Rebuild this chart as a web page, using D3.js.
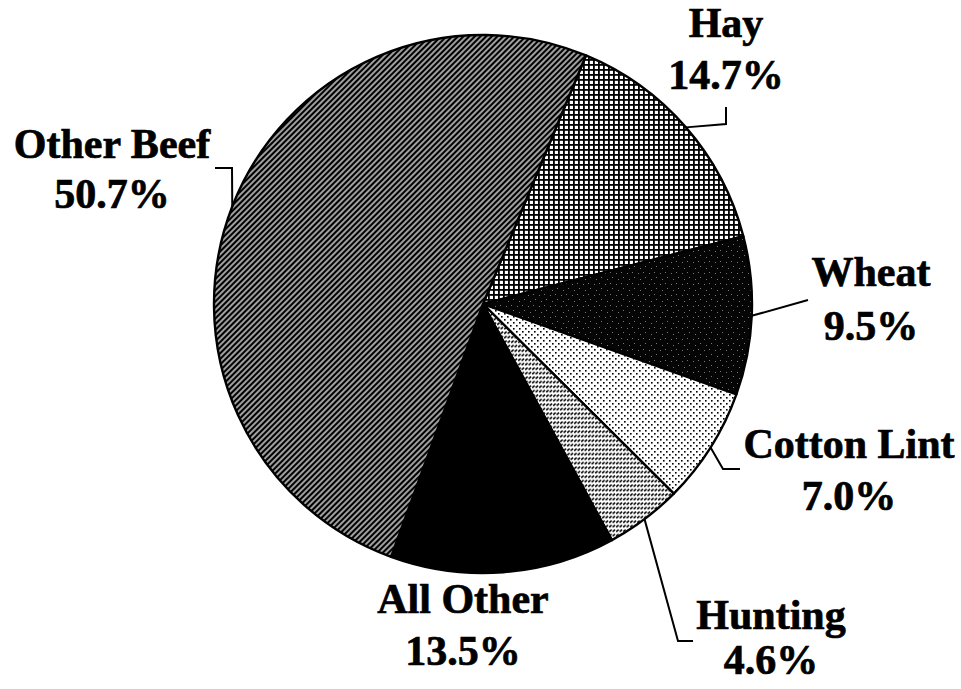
<!DOCTYPE html>
<html>
<head>
<meta charset="utf-8">
<script src="https://cdn.jsdelivr.net/npm/d3@7"></script>
<style>
html,body{margin:0;padding:0;background:#fff;}
svg{display:block;}
text{font-family:"Liberation Serif","Times New Roman",serif;font-weight:bold;fill:#000;stroke:#000;stroke-width:0.7px;}
</style>
</head>
<body>
<svg id="chart" width="961" height="689"></svg>
<script>
// ---- data ----
const categories = ["Hay", "Wheat", "Cotton Lint", "Hunting", "All Other", "Other Beef"];
const shares = [14.7, 9.5, 7.0, 4.6, 13.5, 50.7];
const shareLabels = ["14.7%", "9.5%", "7.0%", "4.6%", "13.5%", "50.7%"];

// ---- layout ----
const W = 961, H = 689;
const cx = 483, cy = 304, R = 269;
const startDeg = 22.5;
const fills = ["url(#pHay)", "url(#pWheat)", "url(#pCotton)", "url(#pHunt)", "#000", "url(#pBeef)"];
const labelPos = {
  "Hay":        {x: 726, y1: 37,  y2: 89},
  "Wheat":      {x: 871, y1: 286, y2: 340},
  "Cotton Lint":{x: 849, y1: 458, y2: 510},
  "Hunting":    {x: 771, y1: 629, y2: 674},
  "All Other":  {x: 463, y1: 613, y2: 665},
  "Other Beef": {x: 112, y1: 158, y2: 208}
};
const leaderTail = {
  "Hay":        [[726,124],[726,107]],
  "Wheat":      [[808,300]],
  "Cotton Lint":[[723,469],[740,469]],
  "Hunting":    [[678,641],[693,641]],
  "Other Beef": [[232,168],[215,168]]
};

const svg = d3.select("#chart");
const defs = svg.append("defs");

// Other Beef: dense diagonal hatching
const pb = defs.append("pattern").attr("id","pBeef").attr("patternUnits","userSpaceOnUse")
  .attr("width",4).attr("height",4).attr("patternTransform","rotate(45)");
pb.append("rect").attr("width",4).attr("height",4).attr("fill","#6e6e6e");
pb.append("rect").attr("x",0).attr("width",2).attr("height",4).attr("fill","#000");
pb.append("rect").attr("x",2.6).attr("width",0.8).attr("height",4).attr("fill","#e8e8e8");

// Hay: crosshatch grid
const ph = defs.append("pattern").attr("id","pHay").attr("patternUnits","userSpaceOnUse")
  .attr("width",5).attr("height",5);
ph.append("rect").attr("width",5).attr("height",5).attr("fill","#fff");
ph.append("rect").attr("x",0).attr("y",0).attr("width",1.8).attr("height",5).attr("fill","#000");
ph.append("rect").attr("x",0).attr("y",0).attr("width",5).attr("height",1.8).attr("fill","#000");

// Wheat: near-black with sparse light specks
const pw = defs.append("pattern").attr("id","pWheat").attr("patternUnits","userSpaceOnUse")
  .attr("width",11).attr("height",11);
pw.append("rect").attr("width",11).attr("height",11).attr("fill","#050505");
[[1,2],[6,1],[8,6],[3,8]].forEach(p=>{
  pw.append("rect").attr("x",p[0]).attr("y",p[1]).attr("width",1).attr("height",1).attr("fill","#777");
});

// Cotton Lint: white with black dots
const pc = defs.append("pattern").attr("id","pCotton").attr("patternUnits","userSpaceOnUse")
  .attr("width",6).attr("height",6);
pc.append("rect").attr("width",6).attr("height",6).attr("fill","#fff");
pc.append("rect").attr("x",0).attr("y",0).attr("width",1.6).attr("height",1.6).attr("fill","#000");
pc.append("rect").attr("x",3).attr("y",3).attr("width",1.6).attr("height",1.6).attr("fill","#000");

// Hunting: rows of short slanted dashes
const pu = defs.append("pattern").attr("id","pHunt").attr("patternUnits","userSpaceOnUse")
  .attr("width",3.5).attr("height",4.5);
pu.append("rect").attr("width",3.5).attr("height",4.5).attr("fill","#fff");
pu.append("path").attr("d","M0.2,2.8 L2.6,0.6").attr("stroke","#000").attr("stroke-width",1.6);

// ---- pie ----
const data = categories.map((c,i)=>({cat:c, value:shares[i], label:shareLabels[i], fill:fills[i]}));
const toRad = d => d*Math.PI/180;
const pie = d3.pie().value(d=>d.value).sort(null)
  .startAngle(toRad(startDeg)).endAngle(toRad(startDeg)+2*Math.PI);
const arc = d3.arc().innerRadius(0).outerRadius(R);
const arcs = pie(data);

const g = svg.append("g").attr("transform",`translate(${cx},${cy})`);
g.selectAll("path.slice").data(arcs).enter().append("path")
  .attr("class","slice")
  .attr("d",arc)
  .attr("fill",d=>d.data.fill)
  .attr("stroke","#000").attr("stroke-width",2.4).attr("stroke-linejoin","round");

// ---- leader lines ----
arcs.forEach(a=>{
  const tail = leaderTail[a.data.cat];
  if(!tail) return;
  const m = (a.startAngle+a.endAngle)/2;
  const p0 = [cx + R*Math.sin(m), cy - R*Math.cos(m)];
  const pts = [p0].concat(tail);
  svg.append("path").attr("d", d3.line()(pts))
    .attr("fill","none").attr("stroke","#000").attr("stroke-width",2);
});

// ---- labels ----
const fs = 42;
arcs.forEach(a=>{
  const lp = labelPos[a.data.cat];
  svg.append("text").attr("x",lp.x).attr("y",lp.y1).attr("text-anchor","middle")
    .attr("font-size",fs).text(a.data.cat);
  svg.append("text").attr("x",lp.x).attr("y",lp.y2).attr("text-anchor","middle")
    .attr("font-size",fs).text(a.data.label);
});
</script>
</body>
</html>
